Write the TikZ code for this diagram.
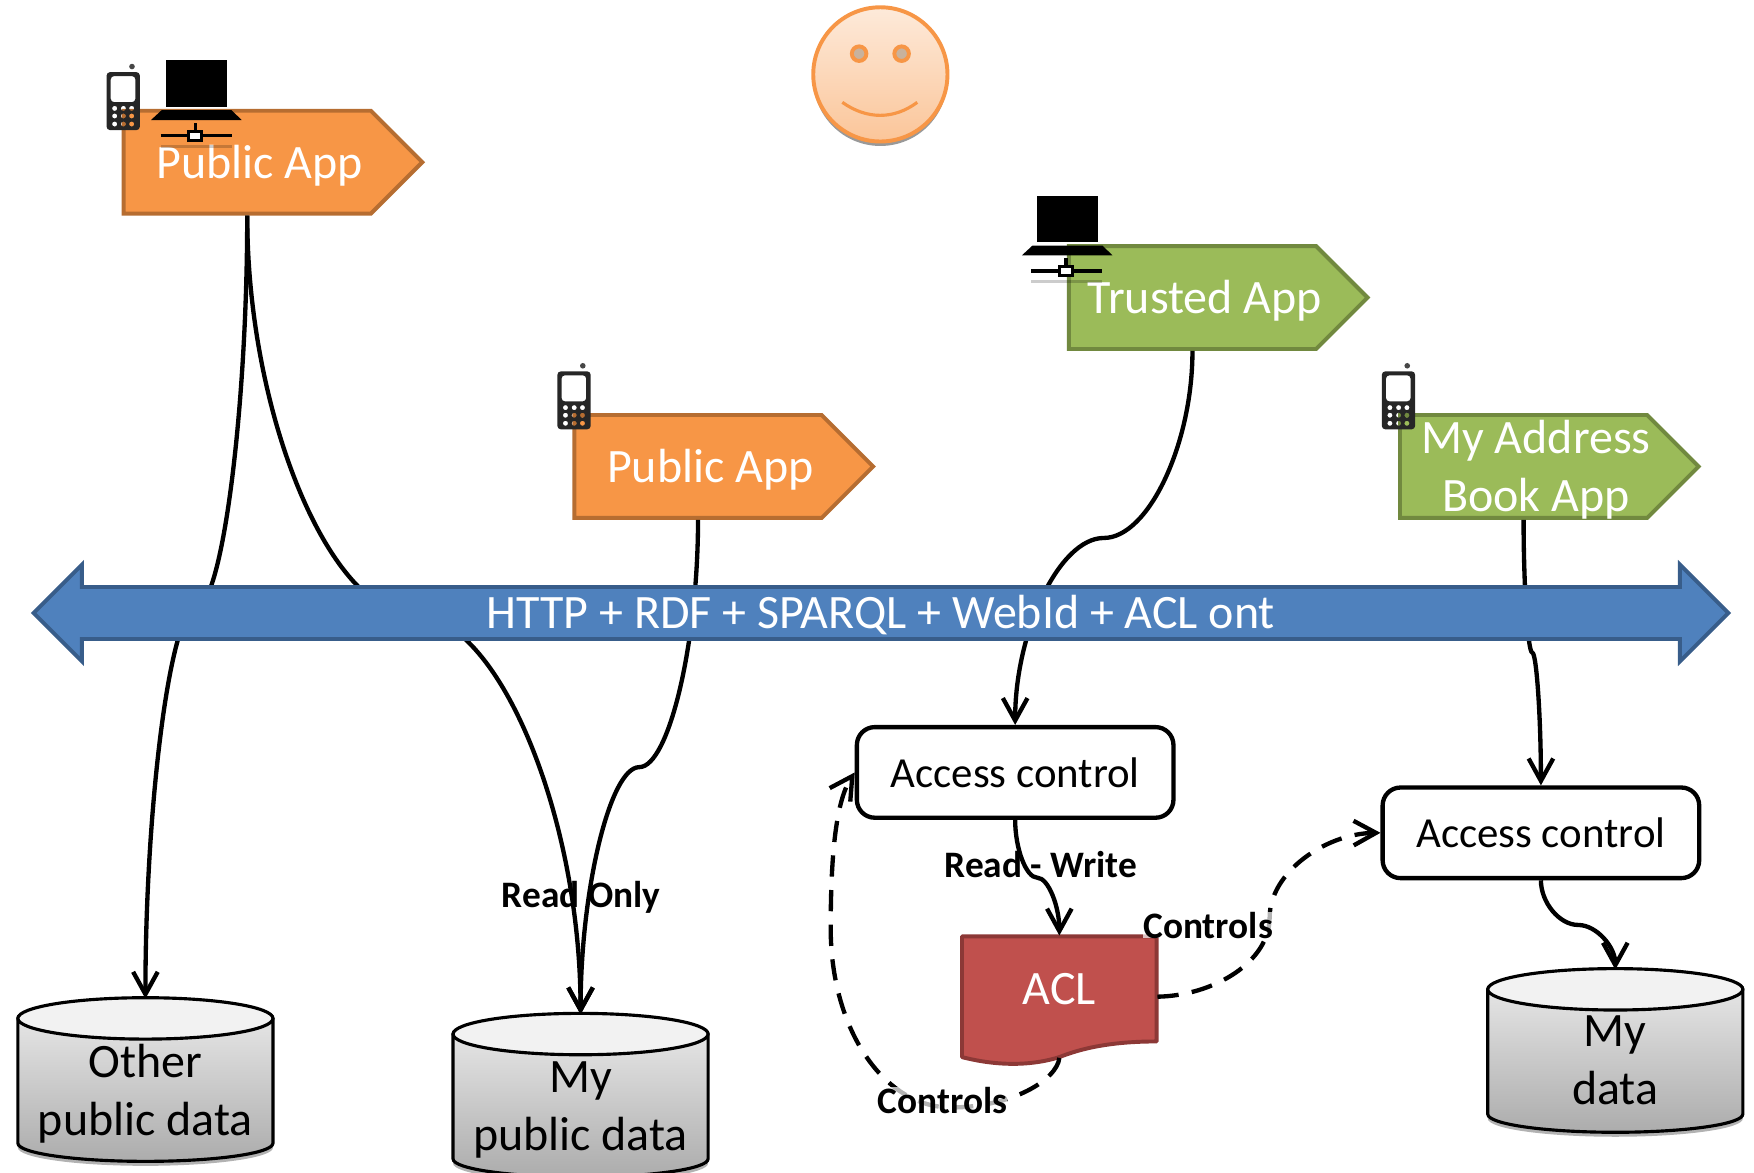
\documentclass[tikz,border=0pt]{standalone}
\usepackage{fontspec}
\setmainfont{Carlito}
\usepackage{xcolor}
\usetikzlibrary{arrows.meta}
\usetikzlibrary{calc}
\usetikzlibrary{shadows}
\usetikzlibrary{shapes.arrows}
\usetikzlibrary{shapes.geometric}
\usetikzlibrary{shapes.symbols}
\definecolor{orangefill}{HTML}{F79646}
\definecolor{orangeline}{HTML}{B66D31}
\definecolor{greenfill}{HTML}{9BBB59}
\definecolor{greenline}{HTML}{71893F}
\definecolor{barfill}{HTML}{4F81BD}
\definecolor{barline}{HTML}{385D8A}
\definecolor{aclfill}{HTML}{C0504D}
\definecolor{aclline}{HTML}{8C3836}
\definecolor{phonedark}{HTML}{262626}
\newcommand{\shiftline}[2]{\raisebox{#1}[\height][\depth]{#2}}
\newcommand{\applabel}[1]{\makebox[2.21cm]{\hspace*{.22cm}\shiftline{-.03cm}{#1}}}
\tikzset{
  pics/phone/.style={code={
    \fill [phonedark,even odd rule,rounded corners=.3mm] (0,0) rectangle (.297,.518)
      (.037,.035) rectangle (.257,.268)
      foreach \kx in {.072,.15,.224} {foreach \ky in {.324,.392,.464} {
        ({\kx-.025},{\ky-.025}) rectangle ++(.05,.05)}};
    \fill [phonedark!85] (.227,-.05) circle (.025);
  }},
  pics/computer/.style={code={
    \fill [black] (0,0) rectangle (.545,.415);
    \fill [black] (-.04,.445) -- (.585,.445) -- (.675,.533) -- (-.135,.533) -- cycle;
    \draw [black,line width=.8pt] (.26,.56) -- (.26,.62);
    \draw [black,line width=.8pt] (-.05,.673) -- (.585,.673);
    \draw [black,line width=.8pt,fill=white] (.2,.633) rectangle (.32,.713);
    \draw [black,opacity=.2,line width=.8pt] (-.05,.77) -- (.585,.77);
  }},
}
\begin{document}
\begin{tikzpicture}[x=1cm,y=-1cm]
    \tikzstyle{every node}=[font=\fontsize{12.2}{14.7}\selectfont]
    \tikzstyle{app} = [signal,signal to=east,signal pointer angle=90,line width=1pt,
      text width=2.21cm,minimum height=.92cm,inner sep=0pt,align=flush center,text=white]
    \tikzstyle{pub} = [app,draw=orangeline,fill=orangefill]
    \tikzstyle{trust} = [app,draw=greenline,fill=greenfill]
    \tikzstyle{ac} = [draw,rounded corners=.16cm,line width=1.1pt,minimum width=2.83cm,minimum height=.81cm,
      font=\fontsize{10.9}{13}\selectfont]
    \tikzstyle{db} = [cylinder,shape border rotate=90,aspect=.162,draw,line width=.8pt,
      minimum width=2.28cm,minimum height=1.44cm,inner sep=0pt,text width=2cm,align=flush center,
      top color=gray!15,bottom color=gray!65,
      drop shadow={shadow xshift=0cm,shadow yshift=-.04cm,opacity=.3,fill=black}]
    \tikzstyle{lbl} = [font=\fontsize{9.5}{11}\selectfont\bfseries,inner sep=0pt]
    \tikzstyle{halo} = [lbl,fill=white,fill opacity=.7,text opacity=1]
    \tikzstyle{link} = [line width=1.1pt,-{Straight Barb[length=2mm,width=2.2mm]},
      to path={let \p1=(\tikztostart),\p2=(\tikztotarget) in
        .. controls (\x1,{\y1+(\y2-\y1)/4}) and ({\x1+(\x2-\x1)/4},{(\y1+\y2)/2})
        .. ({(\x1+\x2)/2},{(\y1+\y2)/2})
        .. controls ({\x1+3*(\x2-\x1)/4},{(\y1+\y2)/2}) and (\x2,{\y1+3*(\y2-\y1)/4})
        .. (\tikztotarget)}]
    \tikzstyle{ctrl} = [line width=1.1pt,dash pattern=on .19cm off .12cm,
      -{Straight Barb[length=2mm,width=2.2mm]}]
    \useasboundingbox (0,0) rectangle (15.68,10.48);
    % smiley
    \node [circle,draw=orangefill,line width=1pt,minimum size=1.2cm,inner sep=0pt,
      top color=orangefill!20,bottom color=orangefill!55,
      drop shadow={shadow xshift=0cm,shadow yshift=-.04cm,opacity=.4,fill=black}] (face) at (7.87,.665) {};
    \node [circle,draw=orangefill,fill=brown!55!gray!60,line width=1pt,minimum size=.13cm,inner sep=0pt] (eye1) at (7.68,.48) {};
    \node [circle,draw=orangefill,fill=brown!55!gray!60,line width=1pt,minimum size=.13cm,inner sep=0pt] (eye2) at (8.06,.48) {};
    \draw [orangefill,line width=.8pt] (7.53,.915) .. controls (7.75,1.07) and (7.99,1.07) .. (8.2,.915);
    % apps
    \node [pub] (pub1) at (2.21,1.45) {\applabel{Public App}};
    \node [pub] (pub2) at (6.24,4.17) {\applabel{Public App}};
    \node [trust] (trust) at (10.66,2.66) {\applabel{Trusted App}};
    \node [trust] (book) at (13.62,4.17) {\applabel{My Address}\\\applabel{Book App}};
    \pic at (.953,.645) {phone};
    \pic at (4.983,3.32) {phone};
    \pic at (12.353,3.32) {phone};
    \pic at (1.485,.54) {computer};
    \pic at (9.27,1.75) {computer};
    % stores
    \node [db] (db1) at (1.3,9.75) {\shiftline{-.03cm}{Other}\\\shiftline{-.03cm}{public data}};
    \node [db] (db2) at (5.19,9.89) {\shiftline{-.03cm}{My}\\\shiftline{-.03cm}{public data}};
    \node [db] (db3) at (14.44,9.49) {\shiftline{.01cm}{My}\\\shiftline{.01cm}{data}};
    \foreach \d in {db1,db2,db3}
      \draw [line width=.8pt,fill=gray!10] ($(\d.before top)!.5!(\d.after top)$) ellipse (1.14 and .185);
    % access control
    \node [ac] (ac1) at (9.075,6.905) {Access control};
    \node [ac] (ac2) at (13.775,7.445) {Access control};
    \draw [draw=aclline,fill=aclfill,line width=1pt,line join=round] (8.6,8.37) -- (10.34,8.37) -- (10.34,9.31)
      .. controls (9.85,9.31) and (9.6,9.4) .. (9.47,9.45)
      .. controls (9.25,9.52) and (8.95,9.54) .. (8.6,9.45) -- cycle;
    \node [text=white,minimum width=1.74cm,minimum height=1.08cm,inner sep=0pt] (acl) at (9.47,8.91)
      {\shiftline{.07cm}{ACL}};
    % connectors
    \draw [link] (pub1.south) to (db1.north);
    \draw [link] (pub1.south) to (db2.north);
    \draw [link] (pub2.south) to (db2.north);
    \draw [link] (trust.south) to (ac1.north);
    \draw [link] (book.south) to (ac2.north);
    \draw [link] (ac1.south) to (acl.north);
    \draw [link] (ac2.south) to (db3.north);
    \draw [ctrl] (acl.east) .. controls (10.85,8.9) and (11.35,8.6) .. (11.35,8.2)
      .. controls (11.35,7.8) and (11.85,7.45) .. (ac2.west);
    \draw [ctrl] (acl.south) .. controls (9.45,9.65) and (9.05,9.9) .. (8.5,9.9)
      .. controls (7.9,9.9) and (7.426,9.2) .. (7.426,8.3)
      .. controls (7.426,7.6) and (7.48,7.15) .. (ac1.west);
    % bar
    \node [double arrow,double arrow head extend=.2cm,double arrow head indent=0cm,draw=barline,fill=barfill,
      line width=1pt,minimum height=15.15cm,inner sep=0pt,text height=.355cm,text depth=.075cm,text=white] (bar) at (7.875,5.48)
      {HTTP + RDF + SPARQL + WebId + ACL ont};
    % labels
    \node [lbl] (ro) at (5.195,8.02) {Read Only};
    \node [lbl] (rw) at (9.305,7.73) {Read - Write};
    \node [halo] (c1) at (10.8,8.27) {Controls};
    \node [halo] (c2) at (8.425,9.84) {Controls};
  \end{tikzpicture}
\end{document}
